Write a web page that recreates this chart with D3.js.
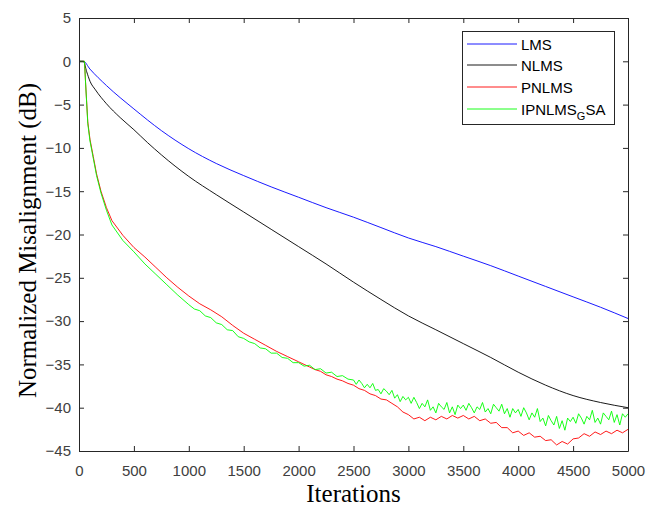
<!DOCTYPE html>
<html>
<head>
<meta charset="utf-8">
<script src="https://cdn.jsdelivr.net/npm/d3@7/dist/d3.min.js"></script>
<style>
  html, body { margin: 0; padding: 0; background: #fff; }
  svg { display: block; }
</style>
</head>
<body>
<svg id="chart" width="648" height="507"></svg>
<script>
// ---------------- DATA ----------------
const xTicks = [0, 500, 1000, 1500, 2000, 2500, 3000, 3500, 4000, 4500, 5000];
const yTicks = [5, 0, -5, -10, -15, -20, -25, -30, -35, -40, -45];
const seriesNames = ["LMS", "NLMS", "PNLMS", "IPNLMS"];

const lmsData = [
  [0,0],[40,0],[100,-0.9],[250,-2.8],[500,-5.5],[750,-8.0],[1000,-10.1],[1250,-11.8],
  [1500,-13.2],[1750,-14.5],[2000,-15.7],[2250,-16.9],[2500,-18.0],[2750,-19.2],
  [3000,-20.4],[3250,-21.4],[3500,-22.5],[3750,-23.6],[4000,-24.8],[4250,-26.0],
  [4500,-27.2],[4750,-28.4],[5000,-29.7]
];

const nlmsData = [
  [0,0],[40,0],[70,-1.2],[100,-2.3],[150,-3.3],[250,-4.9],[375,-6.5],[500,-7.9],
  [625,-9.4],[750,-10.8],[875,-12.1],[1000,-13.3],[1250,-15.4],[1500,-17.4],
  [1750,-19.4],[2000,-21.4],[2250,-23.4],[2500,-25.5],[2750,-27.5],[3000,-29.4],
  [3250,-31.0],[3500,-32.6],[3750,-34.2],[4000,-35.9],[4250,-37.4],[4500,-38.6],
  [4750,-39.4],[5000,-40.0]
];

const pnlmsData = [
  [0,0],[50,0],[60,-2.5],[80,-7.0],[100,-9.0],[130,-11.0],[160,-13.0],[200,-15.0],
  [250,-16.9],[300,-18.4],[400,-20.1],[500,-21.5],[600,-22.6],[700,-23.8],[800,-25.0],
  [900,-26.1],[1000,-27.1],[1100,-28.0],[1200,-28.7],[1300,-29.5],[1400,-30.5],
  [1500,-31.4],[1600,-32.1],[1700,-32.8],[1800,-33.5],[1900,-34.1],[2000,-34.7],
  [2050,-35.0],[2100,-35.3],[2150,-35.6],[2200,-35.8],[2250,-36.2],[2300,-36.4],
  [2350,-36.7],[2400,-36.9],[2450,-37.2],[2500,-37.4],[2550,-37.8],[2600,-38.0],
  [2650,-38.4],[2700,-38.6],[2750,-39.0],[2800,-39.1],[2850,-39.5],[2900,-39.9],
  [2950,-40.5],[3000,-40.8],[3050,-41.3],[3100,-41.1],[3150,-41.5],[3200,-41.1],
  [3250,-41.4],[3300,-41.0],[3350,-41.3],[3400,-40.9],[3450,-41.2],[3500,-40.9],
  [3550,-41.3],[3600,-41.0],[3650,-41.5],[3700,-41.3],[3750,-41.8],[3800,-41.7],
  [3850,-42.3],[3900,-42.3],[3950,-42.9],[4000,-42.7],[4050,-43.2],[4100,-42.9],
  [4150,-43.4],[4200,-43.3],[4250,-43.8],[4300,-43.7],[4350,-44.3],[4400,-43.9],
  [4450,-44.2],[4500,-43.6],[4550,-43.5],[4600,-43.0],[4650,-43.3],[4700,-42.8],
  [4750,-43.1],[4800,-42.7],[4850,-43.0],[4900,-42.6],[4950,-42.9],[5000,-42.5]
];

const ipnlmsData = [
  [0,0],[50,0],[60,-2.5],[80,-7.2],[100,-9.2],[130,-11.2],[160,-13.2],[200,-15.2],
  [250,-17.2],[300,-18.9],[400,-20.7],[500,-22.0],[600,-23.4],[700,-24.6],[800,-25.8],
  [900,-27.0],[1000,-28.1],[1050,-28.6],[1100,-28.8],[1150,-29.4],[1200,-29.6],
  [1250,-30.2],[1300,-30.4],[1350,-31.0],[1400,-31.1],[1450,-31.8],[1500,-32.0],
  [1550,-32.4],[1600,-32.6],[1650,-33.1],[1700,-33.2],[1750,-33.7],[1800,-33.7],
  [1850,-34.2],[1900,-34.3],[1950,-34.8],[2000,-34.8],[2050,-35.2],[2100,-35.1],
  [2150,-35.6],[2200,-35.5],[2250,-36.0],[2300,-35.9],[2350,-36.4],[2400,-36.3],
  [2450,-36.7],[2500,-36.8],[2525,-37.3],[2550,-36.8],[2575,-37.2],[2600,-37.7],
  [2625,-37.3],[2650,-37.7],[2675,-37.2],[2700,-38.0],[2725,-37.9],[2750,-38.4],
  [2775,-37.8],[2800,-38.1],[2825,-38.5],[2850,-38.0],[2875,-38.9],[2900,-38.5],
  [2925,-39.3],[2950,-38.7],[2975,-39.1],[3000,-38.8],[3025,-39.5],[3050,-38.8],
  [3075,-39.4],[3100,-40.1],[3125,-39.5],[3150,-39.9],[3175,-39.1],[3200,-40.3],
  [3225,-39.9],[3250,-40.6],[3275,-39.5],[3300,-39.9],[3325,-40.2],[3350,-39.4],
  [3375,-40.6],[3400,-39.9],[3425,-40.8],[3450,-39.7],[3475,-40.1],[3500,-39.7],
  [3525,-40.3],[3550,-39.5],[3575,-40.0],[3600,-40.6],[3625,-39.9],[3650,-40.2],
  [3675,-39.4],[3700,-40.5],[3725,-40.1],[3750,-40.7],[3775,-39.6],[3800,-40.0],
  [3825,-40.4],[3850,-39.6],[3875,-40.7],[3900,-40.1],[3925,-41.1],[3950,-40.1],
  [3975,-40.6],[4000,-40.2],[4025,-41.0],[4050,-40.0],[4075,-40.6],[4100,-41.4],
  [4125,-40.6],[4150,-41.1],[4175,-40.1],[4200,-41.6],[4225,-41.2],[4250,-42.1],
  [4275,-40.9],[4300,-41.5],[4325,-42.0],[4350,-41.0],[4375,-42.4],[4400,-41.5],
  [4425,-42.6],[4450,-41.2],[4475,-41.6],[4500,-41.1],[4525,-41.8],[4550,-40.7],
  [4575,-41.2],[4600,-41.9],[4625,-41.0],[4650,-41.4],[4675,-40.3],[4700,-41.7],
  [4725,-41.2],[4750,-41.9],[4775,-40.6],[4800,-41.0],[4825,-41.4],[4850,-40.4],
  [4875,-41.7],[4900,-40.8],[4925,-42.0],[4950,-40.7],[4975,-41.1],[5000,-40.7]
];

// ---------------- LAYOUT ----------------
const svg = d3.select("#chart");
const margin = { left: 79, top: 18 };
const plotW = 628 - margin.left;
const plotH = 451 - margin.top;

const x = d3.scaleLinear().domain([0, 5000]).range([margin.left, margin.left + plotW]);
const y = d3.scaleLinear().domain([-45, 5]).range([margin.top + plotH, margin.top]);

const axisColor = "#262626";
const tickFont = "'Liberation Sans', Arial, Helvetica, sans-serif";
const serifFont = "'Liberation Serif', 'Times New Roman', serif";

// series lines
const line = d3.line().x(d => x(d[0])).y(d => y(d[1]));
const lineSmooth = d3.line().x(d => x(d[0])).y(d => y(d[1])).curve(d3.curveMonotoneX);

const g = svg.append("g");
g.append("path").datum(lmsData).attr("d", lineSmooth)
  .attr("fill", "none").attr("stroke", "#0000ff").attr("stroke-width", 0.9);
g.append("path").datum(nlmsData).attr("d", lineSmooth)
  .attr("fill", "none").attr("stroke", "#000000").attr("stroke-width", 0.9);
g.append("path").datum(pnlmsData).attr("d", line)
  .attr("fill", "none").attr("stroke", "#ff0000").attr("stroke-width", 0.9);
g.append("path").datum(ipnlmsData).attr("d", line)
  .attr("fill", "none").attr("stroke", "#00ff00").attr("stroke-width", 0.9);

// axes
function styleAxis(sel, showText) {
  sel.select(".domain").attr("stroke", axisColor).attr("stroke-width", 1);
  sel.selectAll(".tick line").attr("stroke", axisColor).attr("stroke-width", 1);
  sel.selectAll(".tick text")
    .attr("fill", "#404040")
    .style("font-family", tickFont)
    .style("font-size", "15px");
  if (!showText) sel.selectAll(".tick text").remove();
}

const xAxisB = svg.append("g").attr("transform", `translate(0,${y(-45)})`)
  .call(d3.axisBottom(x).tickValues(xTicks).tickFormat(d3.format("d"))
    .tickSizeInner(-5).tickSizeOuter(0).tickPadding(14));
styleAxis(xAxisB, true);

const xAxisT = svg.append("g").attr("transform", `translate(0,${y(5)})`)
  .call(d3.axisTop(x).tickValues(xTicks).tickSizeInner(-5).tickSizeOuter(0));
styleAxis(xAxisT, false);

const yAxisL = svg.append("g").attr("transform", `translate(${x(0)},0)`)
  .call(d3.axisLeft(y).tickValues(yTicks).tickFormat(d3.format("d"))
    .tickSizeInner(-5).tickSizeOuter(0).tickPadding(8));
styleAxis(yAxisL, true);

const yAxisR = svg.append("g").attr("transform", `translate(${x(5000)},0)`)
  .call(d3.axisRight(y).tickValues(yTicks).tickSizeInner(-5).tickSizeOuter(0));
styleAxis(yAxisR, false);

// axis labels
svg.append("text")
  .attr("x", (x(0) + x(5000)) / 2).attr("y", 502)
  .attr("text-anchor", "middle")
  .style("font-family", serifFont)
  .style("font-size", "25px").attr("fill", "#000")
  .text("Iterations");

svg.append("text")
  .attr("transform", `translate(36,${(y(5) + y(-45)) / 2 + 6}) rotate(-90)`)
  .attr("text-anchor", "middle")
  .style("font-family", serifFont)
  .style("font-size", "25px").attr("fill", "#000")
  .text("Normalized Misalignment (dB)");

// legend
const legend = svg.append("g");
legend.append("rect")
  .attr("x", 462.5).attr("y", 31.5).attr("width", 152).attr("height", 93)
  .attr("fill", "#fff").attr("stroke", axisColor).attr("stroke-width", 1);

const legendColors = ["#0000ff", "#000000", "#ff0000", "#00ff00"];
const rowY = [44, 65, 87, 109];
seriesNames.forEach((name, i) => {
  legend.append("line")
    .attr("x1", 467).attr("x2", 517).attr("y1", rowY[i]).attr("y2", rowY[i])
    .attr("stroke", legendColors[i]).attr("stroke-width", 0.9);
  const t = legend.append("text")
    .attr("x", 521).attr("y", rowY[i] + 5.5)
    .style("font-family", tickFont).style("font-size", "15px").attr("fill", "#000");
  if (name === "IPNLMS") {
    t.append("tspan").text("IPNLMS");
    t.append("tspan").attr("dy", 5).style("font-size", "11px").text("G");
    t.append("tspan").attr("dy", -5).text("SA");
  } else {
    t.text(name);
  }
});
</script>
</body>
</html>
